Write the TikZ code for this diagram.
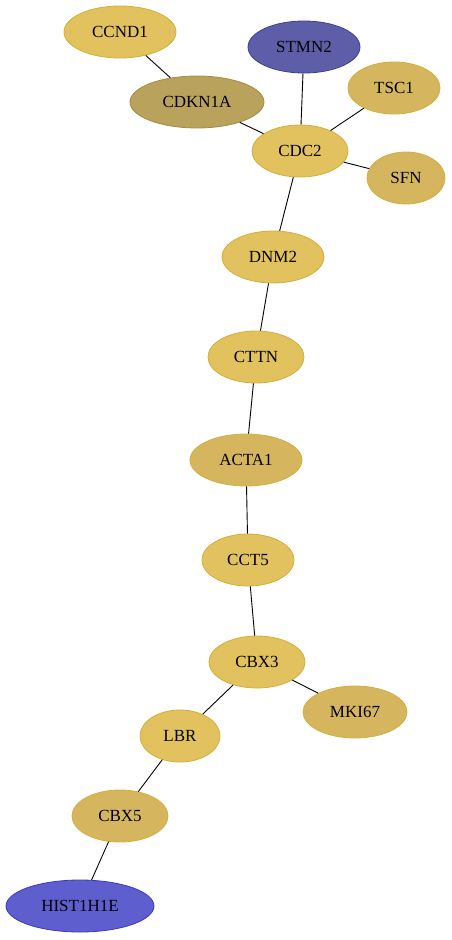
\documentclass[tikz,border=0pt]{standalone}
\usepackage{fontspec}
\setmainfont{Liberation Serif}
\usetikzlibrary{shapes.geometric}
\definecolor{gold}{HTML}{E2C25E}
\definecolor{golddk}{HTML}{D5B65E}
\definecolor{goldln}{HTML}{D4AE3A}
\definecolor{olive}{HTML}{B8A25C}
\definecolor{oliveln}{HTML}{A68C3E}
\definecolor{slate}{HTML}{5E5EA8}
\definecolor{slateln}{HTML}{3C3C9E}
\definecolor{indigo}{HTML}{5E5ECE}
\definecolor{indigoln}{HTML}{3A3AC0}
\tikzstyle{gene} = [ellipse, draw=goldln, fill=gold, line width=0.8pt,
  inner sep=0pt, minimum height=52pt, font=\fontsize{17}{20}\selectfont]
\tikzstyle{genedk} = [gene, fill=golddk]
\tikzstyle{hub} = [gene, draw=oliveln, fill=olive]
\tikzstyle{bluegene} = [gene, draw=slateln, fill=slate]
\tikzstyle{violetgene} = [gene, draw=indigoln, fill=indigo]
\tikzstyle{link} = [draw, line width=0.9pt]

\begin{document}
\begin{tikzpicture}[x=1pt, y=-1pt]
\useasboundingbox (0,0) rectangle (452,940);

% ==========================================
% TOP CLUSTER
% ==========================================
\node[gene, minimum width=112pt] (ccnd1) at (120,32) {CCND1};
\node[bluegene, minimum width=112pt] (stmn2) at (304,47) {STMN2};
\node[hub, minimum width=134pt] (cdkn1a) at (197,102) {CDKN1A};
\node[genedk, minimum width=92pt] (tsc1) at (394,88) {TSC1};
\node[gene, minimum width=96pt] (cdc2) at (300,151) {CDC2};
\node[genedk, minimum width=78pt] (sfn) at (406,178) {SFN};

% ==========================================
% CHAIN
% ==========================================
\node[gene, minimum width=102pt] (dnm2) at (273,257) {DNM2};
\node[gene, minimum width=96pt] (cttn) at (256,357) {CTTN};
\node[genedk, minimum width=112pt] (acta1) at (246,460) {ACTA1};
\node[gene, minimum width=92pt] (cct5) at (248,560) {CCT5};
\node[gene, minimum width=96pt] (cbx3) at (257,662) {CBX3};
\node[genedk, minimum width=104pt] (mki67) at (355,712) {MKI67};
\node[gene, minimum width=80pt] (lbr) at (180,736) {LBR};
\node[genedk, minimum width=96pt] (cbx5) at (120,816) {CBX5};
\node[violetgene, minimum width=148pt] (hist) at (80,906) {HIST1H1E};

% Edges
\foreach \a/\b in {ccnd1/cdkn1a,cdkn1a/cdc2,stmn2/cdc2,tsc1/cdc2,sfn/cdc2,
  cdc2/dnm2,dnm2/cttn,cttn/acta1,acta1/cct5,cct5/cbx3,cbx3/mki67,
  cbx3/lbr,lbr/cbx5,cbx5/hist}
  { \draw[link] (\a) -- (\b); }

\end{tikzpicture}
\end{document}
